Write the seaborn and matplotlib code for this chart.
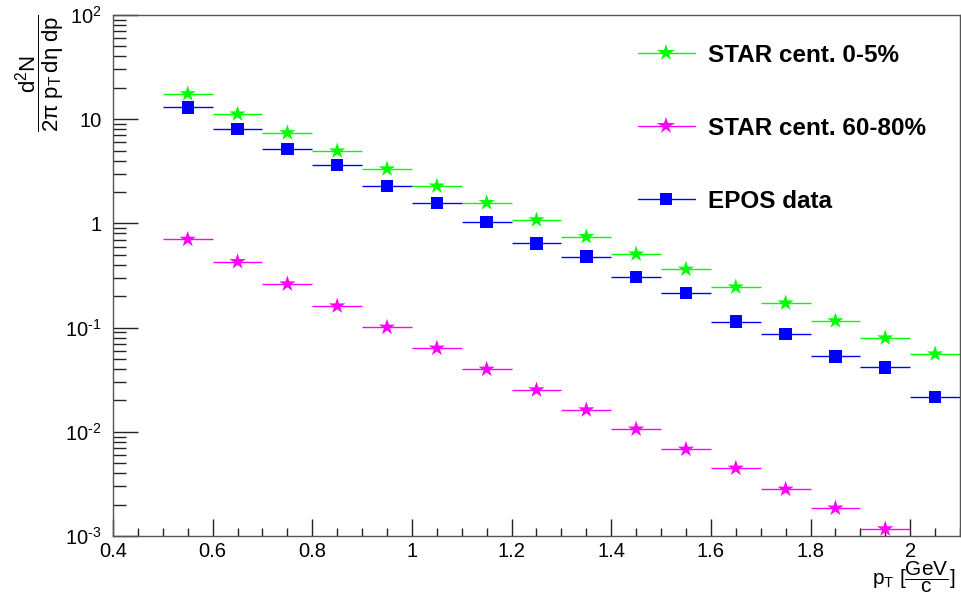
import numpy as np
import pandas as pd
import matplotlib
matplotlib.use("Agg")
import matplotlib.pyplot as plt
from matplotlib.lines import Line2D
from matplotlib.ticker import FixedLocator, FixedFormatter, MultipleLocator, NullFormatter
import seaborn as sns

# Transverse-momentum bin centres and half widths (GeV/c)
pt_centers = [0.55, 0.65, 0.75, 0.85, 0.95, 1.05, 1.15, 1.25, 1.35, 1.45,
              1.55, 1.65, 1.75, 1.85, 1.95, 2.05]
bin_half_width = 0.05

# Invariant yields
star_central = [17.5, 11.2, 7.4, 4.95, 3.33, 2.28, 1.58, 1.08, 0.745, 0.508,
                0.363, 0.245, 0.172, 0.116, 0.0794, 0.0558]
star_peripheral = [0.703, 0.429, 0.262, 0.161, 0.1007, 0.0634, 0.0398, 0.0252,
                   0.0162, 0.0106, 0.0068, 0.00447, 0.00281, 0.00185, 0.00117]
epos = [13.0, 8.05, 5.17, 3.63, 2.28, 1.56, 1.025, 0.644, 0.479, 0.304,
        0.216, 0.114, 0.0869, 0.053, 0.0416, 0.0217]

series_names = ["STAR cent. 0-5%", "STAR cent. 60-80%", "EPOS data"]
series_colors = ["#00ff00", "#ff00ff", "#0000ff"]
series_markers = ["*", "*", "s"]

y_ticks = [1e-3, 1e-2, 1e-1, 1, 10, 100]
y_tick_labels = ["10$^{\\text{-}3}$", "10$^{\\text{-}2}$", "10$^{\\text{-}1}$", "1", "10", "10$^{2}$"]
x_ticks = [0.4, 0.6, 0.8, 1.0, 1.2, 1.4, 1.6, 1.8, 2.0]
x_tick_labels = ["0.4", "0.6", "0.8", "1", "1.2", "1.4", "1.6", "1.8", "2"]

sns.set_theme(style="white")
plt.rcParams["font.family"] = ["Liberation Sans", "DejaVu Sans"]
plt.rcParams["mathtext.fontset"] = "custom"
plt.rcParams["mathtext.rm"] = "Liberation Sans"
plt.rcParams["mathtext.it"] = "Liberation Sans"
plt.rcParams["mathtext.bf"] = "Liberation Sans:bold"
plt.rcParams["text.color"] = "black"
plt.rcParams["axes.labelcolor"] = "black"

frames = []
for name, vals in zip(series_names, [star_central, star_peripheral, epos]):
    frames.append(pd.DataFrame({"pt": pt_centers[:len(vals)], "yield": vals, "series": name}))
df = pd.concat(frames, ignore_index=True)

fig = plt.figure(figsize=(9.62, 6.01), dpi=100)
ax = fig.add_axes([113 / 962, 65 / 601, 847 / 962, 521 / 601])

# Horizontal bin-width bars
for name, color in zip(series_names, series_colors):
    sub = df[df["series"] == name]
    ax.errorbar(sub["pt"], sub["yield"], xerr=bin_half_width, fmt="none",
                ecolor=color, elinewidth=1.0, capsize=0, zorder=2)

# Markers
palette = dict(zip(series_names, series_colors))
sns.scatterplot(data=df[df["series"] != "EPOS data"], x="pt", y="yield", hue="series",
                palette=palette, marker="*", s=150, linewidth=0, legend=False,
                ax=ax, zorder=3)
sns.scatterplot(data=df[df["series"] == "EPOS data"], x="pt", y="yield", hue="series",
                palette=palette, marker="s", s=80, linewidth=0, legend=False,
                ax=ax, zorder=3)

ax.set_yscale("log")
ax.set_xlim(0.4, 2.1)
ax.set_ylim(1e-3, 1e2)

ax.yaxis.set_major_locator(FixedLocator(y_ticks))
ax.yaxis.set_major_formatter(FixedFormatter(y_tick_labels))
minor_y = [m * 10.0 ** e for e in range(-3, 2) for m in range(2, 10)]
ax.yaxis.set_minor_locator(FixedLocator(minor_y))
ax.yaxis.set_minor_formatter(NullFormatter())

ax.xaxis.set_major_locator(FixedLocator(x_ticks))
ax.xaxis.set_major_formatter(FixedFormatter(x_tick_labels))
ax.xaxis.set_minor_locator(MultipleLocator(0.05))

ax.tick_params(axis="both", which="both", direction="in", color="#222222",
               labelcolor="black", bottom=True, left=True, top=False, right=False,
               width=1.0)
ax.tick_params(axis="y", which="major", length=18, labelsize=14.5, pad=8)
ax.tick_params(axis="y", which="minor", length=9)
ax.tick_params(axis="x", which="major", length=12, labelsize=14.5, pad=4)
ax.tick_params(axis="x", which="minor", length=6)

for sp in ax.spines.values():
    sp.set_color("#555555")
    sp.set_linewidth(1.0)

ax.set_xlabel(r"$\mathrm{p_{T}\ [\dfrac{GeV}{c}]}$", fontsize=15, loc="right", labelpad=-1)
ax.xaxis.label.set_x(0.995)
ax.set_ylabel(r"$\mathrm{\dfrac{d^{2}N}{2\pi\ p_{T}\,d\eta\ dp}}$", fontsize=16, loc="top", labelpad=-1)

handles = [Line2D([0], [0], color=c, marker=m, markersize=(13 if m == "*" else 9),
                  markeredgewidth=0, linewidth=1.0)
           for c, m in zip(series_colors, series_markers)]
leg = ax.legend(handles, series_names, loc="upper left",
                bbox_to_anchor=(616 / 962, 1 - 22 / 601), bbox_transform=fig.transFigure,
                frameon=False, handlelength=2.35, handletextpad=0.55, labelspacing=2.05,
                prop={"family": "Liberation Sans", "weight": "bold", "size": 17.5})
for t in leg.get_texts():
    t.set_color("black")

fig.savefig("out.png", dpi=100, facecolor="white")
